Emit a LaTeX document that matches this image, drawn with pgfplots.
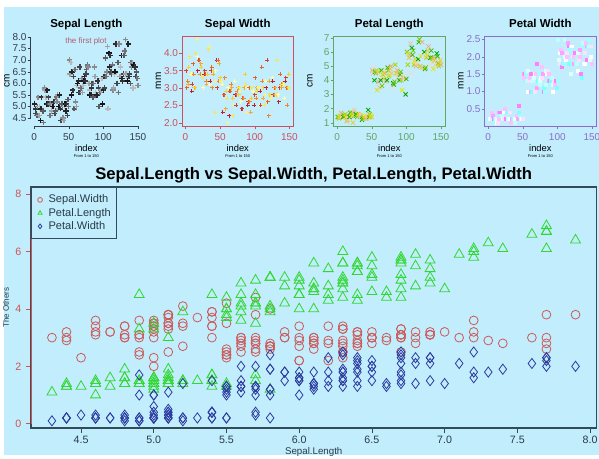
\documentclass[border=0pt]{standalone}
\usepackage{pgfplots}
\usepackage{pgfplotstable}
\pgfplotsset{compat=1.18}
\usepackage{fontspec}
\setmainfont{Liberation Sans}

\definecolor{bg}{RGB}{193,237,252}
\definecolor{swc}{RGB}{205,90,90}
\definecolor{plc}{RGB}{50,215,50}
\definecolor{pwc}{RGB}{45,60,160}
\definecolor{boxc}{RGB}{50,75,90}
\definecolor{redax}{RGB}{205,85,85}
\definecolor{c1}{RGB}{50,60,75}
\definecolor{c2}{RGB}{205,80,95}
\definecolor{c3}{RGB}{100,165,100}
\definecolor{c4}{RGB}{140,110,200}

\pgfplotsset{
 colormap={grayR}{rgb255=(20,20,25) rgb255=(60,60,65) rgb255=(120,120,125) rgb255=(185,185,190)},
 colormap={heatR}{rgb255=(190,30,50) rgb255=(240,120,40) rgb255=(250,220,40) rgb255=(255,255,170)},
 colormap={terrR}{rgb255=(0,166,0) rgb255=(120,200,0) rgb255=(230,230,0) rgb255=(236,177,118) rgb255=(242,220,200)},
 colormap={cmR}{rgb255=(128,255,255) rgb255=(255,255,255) rgb255=(255,128,255)},
}

\pgfplotstableread{
i SL SW PL PW
1 5.1 3.5 1.4 0.2
2 4.9 3.0 1.4 0.2
3 4.7 3.2 1.3 0.2
4 4.6 3.1 1.5 0.2
5 5.0 3.6 1.4 0.2
6 5.4 3.9 1.7 0.4
7 4.6 3.4 1.4 0.3
8 5.0 3.4 1.5 0.2
9 4.4 2.9 1.4 0.2
10 4.9 3.1 1.5 0.1
11 5.4 3.7 1.5 0.2
12 4.8 3.4 1.6 0.2
13 4.8 3.0 1.4 0.1
14 4.3 3.0 1.1 0.1
15 5.8 4.0 1.2 0.2
16 5.7 4.4 1.5 0.4
17 5.4 3.9 1.3 0.4
18 5.1 3.5 1.4 0.3
19 5.7 3.8 1.7 0.3
20 5.1 3.8 1.5 0.3
21 5.4 3.4 1.7 0.2
22 5.1 3.7 1.5 0.4
23 4.6 3.6 1.0 0.2
24 5.1 3.3 1.7 0.5
25 4.8 3.4 1.9 0.2
26 5.0 3.0 1.6 0.2
27 5.0 3.4 1.6 0.4
28 5.2 3.5 1.5 0.2
29 5.2 3.4 1.4 0.2
30 4.7 3.2 1.6 0.2
31 4.8 3.1 1.6 0.2
32 5.4 3.4 1.5 0.4
33 5.2 4.1 1.5 0.1
34 5.5 4.2 1.4 0.2
35 4.9 3.1 1.5 0.2
36 5.0 3.2 1.2 0.2
37 5.5 3.5 1.3 0.2
38 4.9 3.6 1.4 0.1
39 4.4 3.0 1.3 0.2
40 5.1 3.4 1.5 0.2
41 5.0 3.5 1.3 0.3
42 4.5 2.3 1.3 0.3
43 4.4 3.2 1.3 0.2
44 5.0 3.5 1.6 0.6
45 5.1 3.8 1.9 0.4
46 4.8 3.0 1.4 0.3
47 5.1 3.8 1.6 0.2
48 4.6 3.2 1.4 0.2
49 5.3 3.7 1.5 0.2
50 5.0 3.3 1.4 0.2
51 7.0 3.2 4.7 1.4
52 6.4 3.2 4.5 1.5
53 6.9 3.1 4.9 1.5
54 5.5 2.3 4.0 1.3
55 6.5 2.8 4.6 1.5
56 5.7 2.8 4.5 1.3
57 6.3 3.3 4.7 1.6
58 4.9 2.4 3.3 1.0
59 6.6 2.9 4.6 1.3
60 5.2 2.7 3.9 1.4
61 5.0 2.0 3.5 1.0
62 5.9 3.0 4.2 1.5
63 6.0 2.2 4.0 1.0
64 6.1 2.9 4.7 1.4
65 5.6 2.9 3.6 1.3
66 6.7 3.1 4.4 1.4
67 5.6 3.0 4.5 1.5
68 5.8 2.7 4.1 1.0
69 6.2 2.2 4.5 1.5
70 5.6 2.5 3.9 1.1
71 5.9 3.2 4.8 1.8
72 6.1 2.8 4.0 1.3
73 6.3 2.5 4.9 1.5
74 6.1 2.8 4.7 1.2
75 6.4 2.9 4.3 1.3
76 6.6 3.0 4.4 1.4
77 6.8 2.8 4.8 1.4
78 6.7 3.0 5.0 1.7
79 6.0 2.9 4.5 1.5
80 5.7 2.6 3.5 1.0
81 5.5 2.4 3.8 1.1
82 5.5 2.4 3.7 1.0
83 5.8 2.7 3.9 1.2
84 6.0 2.7 5.1 1.6
85 5.4 3.0 4.5 1.5
86 6.0 3.4 4.5 1.6
87 6.7 3.1 4.7 1.5
88 6.3 2.3 4.4 1.3
89 5.6 3.0 4.1 1.3
90 5.5 2.5 4.0 1.3
91 5.5 2.6 4.4 1.2
92 6.1 3.0 4.6 1.4
93 5.8 2.6 4.0 1.2
94 5.0 2.3 3.3 1.0
95 5.6 2.7 4.2 1.3
96 5.7 3.0 4.2 1.2
97 5.7 2.9 4.2 1.3
98 6.2 2.9 4.3 1.3
99 5.1 2.5 3.0 1.1
100 5.7 2.8 4.1 1.3
101 6.3 3.3 6.0 2.5
102 5.8 2.7 5.1 1.9
103 7.1 3.0 5.9 2.1
104 6.3 2.9 5.6 1.8
105 6.5 3.0 5.8 2.2
106 7.6 3.0 6.6 2.1
107 4.9 2.5 4.5 1.7
108 7.3 2.9 6.3 1.8
109 6.7 2.5 5.8 1.8
110 7.2 3.6 6.1 2.5
111 6.5 3.2 5.1 2.0
112 6.4 2.7 5.3 1.9
113 6.8 3.0 5.5 2.1
114 5.7 2.5 5.0 2.0
115 5.8 2.8 5.1 2.4
116 6.4 3.2 5.3 2.3
117 6.5 3.0 5.5 1.8
118 7.7 3.8 6.7 2.2
119 7.7 2.6 6.9 2.3
120 6.0 2.2 5.0 1.5
121 6.9 3.2 5.7 2.3
122 5.6 2.8 4.9 2.0
123 7.7 2.8 6.7 2.0
124 6.3 2.7 4.9 1.8
125 6.7 3.3 5.7 2.1
126 7.2 3.2 6.0 1.8
127 6.2 2.8 4.8 1.8
128 6.1 3.0 4.9 1.8
129 6.4 2.8 5.6 2.1
130 7.2 3.0 5.8 1.6
131 7.4 2.8 6.1 1.9
132 7.9 3.8 6.4 2.0
133 6.4 2.8 5.6 2.2
134 6.3 2.8 5.1 1.5
135 6.1 2.6 5.6 1.4
136 7.7 3.0 6.1 2.3
137 6.3 3.4 5.6 2.4
138 6.4 3.1 5.5 1.8
139 6.0 3.0 4.8 1.8
140 6.9 3.1 5.4 2.1
141 6.7 3.1 5.6 2.4
142 6.9 3.1 5.1 2.3
143 5.8 2.7 5.1 1.9
144 6.8 3.2 5.9 2.3
145 6.7 3.3 5.7 2.5
146 6.7 3.0 5.2 2.3
147 6.3 2.5 5.0 1.9
148 6.5 3.0 5.2 2.0
149 6.2 3.4 5.4 2.3
150 5.9 3.0 5.1 1.8
}\iris

\tikzset{note/.style={font=\fontsize{3}{3.5}\selectfont}}
\pgfplotsset{
 onedec/.style={/pgf/number format/fixed, /pgf/number format/fixed zerofill, /pgf/number format/precision=1},
 smallax/.style={anchor=south west, scale only axis, width=83.6pt, height=67.5pt,
  xmin=-4.96, xmax=155.96, xtick={0,50,100,150},
  tick align=outside, major tick length=2.25pt, xtick pos=left, ytick pos=left,
  tick label style={font=\fontsize{7.5}{8}\selectfont},
  yticklabel style={inner xsep=0.6pt},
  /pgf/number format/assume math mode=true,
  every axis title/.style={at={(0.5,1)}, anchor=base, yshift=6.6pt, font=\bfseries\fontsize{8.6}{10}\selectfont},
  xlabel={index},
  every axis x label/.style={at={(0.5,0)}, anchor=base, yshift=-18.75pt, font=\fontsize{7}{8}\selectfont},
  every axis y label/.style={at={(axis description cs:0,0.5)}, xshift=-17.7pt, rotate=90, anchor=center, font=\fontsize{7.5}{8}\selectfont},
  only marks, scatter, clip=false,
  scatter/use mapped color={draw=mapped color, fill=mapped color},
 },
}

\begin{document}
\begin{tikzpicture}
\useasboundingbox (0,0) rectangle (449.25pt,343.5pt);
\fill[white] (0,0) rectangle (449.25pt,343.5pt);
\fill[bg] (3pt,2.25pt) rectangle (449.25pt,338.25pt);

% ---- Sepal Length
\begin{axis}[smallax, at={(22.95pt,249pt)}, title={Sepal Length}, ylabel={cm},
  ymin=4.156, ymax=8.044, ytick={4.5,5,...,8},
  yticklabel style={onedec},
  axis line style={draw=none}, tick style={c1}, tick label style={text=c1},
  colormap name=grayR, point meta={mod(\thisrow{i},9)}]
\addplot[mark=+, mark size=2pt, mark options={line width=1.15pt}] table[x=i, y=SL] {\iris};
\draw[c1] (axis cs:0,4.156) -- (axis cs:150,4.156);
\draw[c1] (axis cs:-4.96,4.5) -- (axis cs:-4.96,8);
\node[text={rgb,255:red,175;green,95;blue,110}, font=\fontsize{6}{7}\selectfont] at (axis cs:75,7.8) {the first plot};
\node[note, anchor=base] at ([yshift=-23.3pt]rel axis cs:0.5,0) {From 1 to 150};
\end{axis}

% ---- Sepal Width
\begin{axis}[smallax, at={(136.5pt,249pt)}, title={Sepal Width}, ylabel={mm},
  ymin=1.904, ymax=4.496, ytick={2,2.5,...,4},
  yticklabel style={onedec},
  axis line style={draw=c2}, tick style={c2}, tick label style={text=c2},
  colormap name=heatR, point meta={mod(\thisrow{i},9)}]
\addplot[mark=+, mark size=1.5pt, mark options={line width=0.7pt}] table[x=i, y=SW] {\iris};
\node[note, anchor=base] at ([yshift=-23.3pt]rel axis cs:0.5,0) {From 1 to 150};
\end{axis}

% ---- Petal Length
\begin{axis}[smallax, at={(250.2pt,249pt)}, title={Petal Length}, ylabel={cm},
  ymin=0.764, ymax=7.136, ytick={1,2,...,7},
  axis line style={draw=c3}, tick style={c3}, tick label style={text=c3},
  colormap name=terrR, point meta={mod(\thisrow{i},9)}]
\addplot[mark=x, mark size=2.2pt, mark options={line width=0.6pt}] table[x=i, y=PL] {\iris};
\node[note, anchor=base] at ([yshift=-23.3pt]rel axis cs:0.5,0) {From 1 to 150};
\end{axis}

% ---- Petal Width
\begin{axis}[smallax, at={(363.45pt,249pt)}, title={Petal Width}, ylabel={mm},
  ymin=0.004, ymax=2.596, ytick={0.5,1,...,2.5},
  yticklabel style={onedec},
  axis line style={draw=c4}, tick style={c4}, tick label style={text=c4},
  colormap name=cmR, point meta={mod(\thisrow{i},9)}]
\addplot[mark=square*, mark size=1.1pt] table[x=i, y=PW] {\iris};
\node[note, anchor=base] at ([yshift=-23.3pt]rel axis cs:0.5,0) {From 1 to 150};
\end{axis}

% ---- Main plot
\begin{axis}[at={(23.25pt,22.5pt)}, anchor=south west, scale only axis,
  width=424.1pt, height=180.75pt,
  xmin=4.156, xmax=8.044, ymin=-0.15, ymax=8.25,
  xtick={4.5,5,...,8}, ytick={0,2,4,6,8},
  xticklabel style={onedec},
  /pgf/number format/assume math mode=true,
  tick align=outside, major tick length=3.75pt, xtick pos=left, ytick pos=left,
  axis line style={draw=boxc, line width=0.8pt}, tick style={boxc, line width=0.6pt},
  y tick style={redax},
  tick label style={font=\fontsize{8}{9}\selectfont},
  xticklabel style={text=boxc!80!black, yshift=1pt}, yticklabel style={text=redax},
  title={Sepal.Length vs Sepal.Width, Petal.Length, Petal.Width},
  every axis title/.style={at={(0.5,1)}, anchor=base, yshift=5.3pt, font=\bfseries\fontsize{12.5}{14}\selectfont},
  xlabel={Sepal.Length},
  every axis x label/.style={at={(0.5,0)}, anchor=base, yshift=-19.6pt, font=\fontsize{7.3}{8}\selectfont, text=boxc!80!black},
  ylabel={The Others},
  every axis y label/.style={at={(axis description cs:0,0.5)}, xshift=-18.75pt, rotate=90, anchor=center, font=\fontsize{6}{7}\selectfont, text=boxc!80!black},
  legend style={at={(0,1)}, anchor=north west, draw=boxc, line width=0.8pt, fill=none,
    font=\fontsize{8.3}{9}\selectfont, text=boxc!80!black, legend cell align=left,
    inner xsep=3pt, inner ysep=4.5pt, row sep=0.4pt, nodes={inner sep=1pt}},
  legend image code/.code={\path (0pt,0pt) (8pt,0pt); \draw[#1, mark size=1.8pt, line width=0.5pt] plot coordinates {(3pt,0pt)};},
  only marks]
\addplot[swc, mark=o, mark size=3.3pt, mark options={line width=0.6pt}] table[x=SL, y=SW] {\iris};
\addlegendentry{Sepal.Width}
\addplot[plc, mark=triangle, mark size=4.3pt, mark options={line width=0.6pt}] table[x=SL, y=PL] {\iris};
\addlegendentry{Petal.Length}
\addplot[pwc, mark=diamond, mark size=3.8pt, mark options={line width=0.6pt}] table[x=SL, y=PW] {\iris};
\addlegendentry{Petal.Width}
\draw[redax, line width=0.8pt] (axis cs:4.156,0) -- (axis cs:4.156,8);
\end{axis}
\end{tikzpicture}
\end{document}
